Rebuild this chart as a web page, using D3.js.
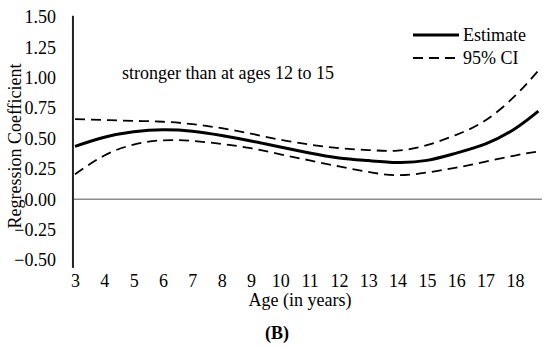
<!DOCTYPE html>
<html lang="en">
<head>
<meta charset="UTF-8">
<title>Regression Coefficient by Age</title>
<script src="https://d3js.org/d3.v7.min.js"></script>
<style>
  body { margin: 0; background: #fff; }
  text { font-family: "Liberation Serif", "Times New Roman", serif; fill: #000; }
</style>
</head>
<body>
<div id="chart"></div>
<script>
// Data
const ages     = [3, 4, 5, 6, 7, 8, 9, 10, 11, 12, 13, 14, 15, 16, 17, 18, 18.8];
const estimate = [0.435, 0.51, 0.555, 0.572, 0.56, 0.525, 0.48, 0.43, 0.38, 0.34, 0.318, 0.303, 0.32, 0.38, 0.455, 0.58, 0.725];
const ciUpper  = [0.66, 0.652, 0.645, 0.638, 0.618, 0.585, 0.54, 0.49, 0.45, 0.42, 0.405, 0.40, 0.445, 0.53, 0.65, 0.85, 1.06];
const ciLower  = [0.205, 0.36, 0.45, 0.485, 0.48, 0.455, 0.42, 0.37, 0.32, 0.27, 0.225, 0.198, 0.22, 0.26, 0.31, 0.36, 0.394];
const xTicks   = [3, 4, 5, 6, 7, 8, 9, 10, 11, 12, 13, 14, 15, 16, 17, 18];
const yTicks   = [-0.5, -0.25, 0, 0.25, 0.5, 0.75, 1, 1.25, 1.5];

const W = 550, H = 347;
const svg = d3.select("#chart").append("svg")
    .attr("width", W)
    .attr("height", H);

const x = d3.scaleLinear().domain([3, 18.8]).range([75, 538.4]);
const y = d3.scaleLinear().domain([-0.5, 1.5]).range([260, 17]);

const fmt = d => (d < 0 ? "\u2212" : "") + d3.format(".2f")(Math.abs(d));

// y axis labels (no ticks)
const yAxis = svg.append("g")
    .attr("transform", "translate(56,0)")
    .call(d3.axisLeft(y).tickValues(yTicks).tickSize(0).tickPadding(0).tickFormat(fmt));
yAxis.select(".domain").remove();
yAxis.selectAll("text").style("font-size", "18px").style("font-family", "Liberation Serif");

// x axis labels
const xAxis = svg.append("g")
    .attr("transform", "translate(0,274)")
    .call(d3.axisBottom(x).tickValues(xTicks).tickSize(0).tickPadding(0).tickFormat(d3.format("d")));
xAxis.select(".domain").remove();
xAxis.selectAll("text").style("font-size", "18px").style("font-family", "Liberation Serif");

// zero line
svg.append("line")
    .attr("x1", x(2.93)).attr("x2", x(18.92))
    .attr("y1", y(0)).attr("y2", y(0))
    .attr("stroke", "#8c8c8c")
    .attr("stroke-width", 1.5);

// vertical axis line
svg.append("line")
    .attr("x1", x(2.93)).attr("x2", x(2.93))
    .attr("y1", y(1.51)).attr("y2", y(-0.565))
    .attr("stroke", "#222")
    .attr("stroke-width", 2);

const line = vals => d3.line()
    .x((d, i) => x(ages[i]))
    .y(d => y(d))
    .curve(d3.curveNatural)(vals);

svg.append("path")
    .attr("d", line(ciUpper))
    .attr("fill", "none").attr("stroke", "#000")
    .attr("stroke-width", 1.8).attr("stroke-dasharray", "10,6");

svg.append("path")
    .attr("d", line(ciLower))
    .attr("fill", "none").attr("stroke", "#000")
    .attr("stroke-width", 1.8).attr("stroke-dasharray", "10,6");

svg.append("path")
    .attr("d", line(estimate))
    .attr("fill", "none").attr("stroke", "#000")
    .attr("stroke-width", 3);

// legend
const legend = svg.append("g");
legend.append("line")
    .attr("x1", 413).attr("x2", 459).attr("y1", 35).attr("y2", 35)
    .attr("stroke", "#000").attr("stroke-width", 3);
legend.append("text")
    .attr("x", 463).attr("y", 35).attr("dy", "0.35em")
    .style("font-size", "18px").text("Estimate");
legend.append("line")
    .attr("x1", 413).attr("x2", 459).attr("y1", 58).attr("y2", 58)
    .attr("stroke", "#000").attr("stroke-width", 1.8).attr("stroke-dasharray", "10,6");
legend.append("text")
    .attr("x", 463).attr("y", 58).attr("dy", "0.35em")
    .style("font-size", "18px").text("95% CI");

// annotation
svg.append("text")
    .attr("x", 122).attr("y", 73).attr("dy", "0.35em")
    .style("font-size", "18px")
    .text("stronger than at ages 12 to 15");

// axis titles
svg.append("text")
    .attr("transform", "translate(15,146) rotate(-90)")
    .attr("text-anchor", "middle").attr("dy", "0.35em")
    .style("font-size", "18px")
    .text("Regression Coefficient");

svg.append("text")
    .attr("x", 300).attr("y", 300).attr("dy", "0.35em")
    .attr("text-anchor", "middle")
    .style("font-size", "18px")
    .text("Age (in years)");

svg.append("text")
    .attr("x", 277).attr("y", 333).attr("dy", "0.35em")
    .attr("text-anchor", "middle")
    .style("font-size", "18px").style("font-weight", "bold")
    .text("(B)");
</script>
</body>
</html>
